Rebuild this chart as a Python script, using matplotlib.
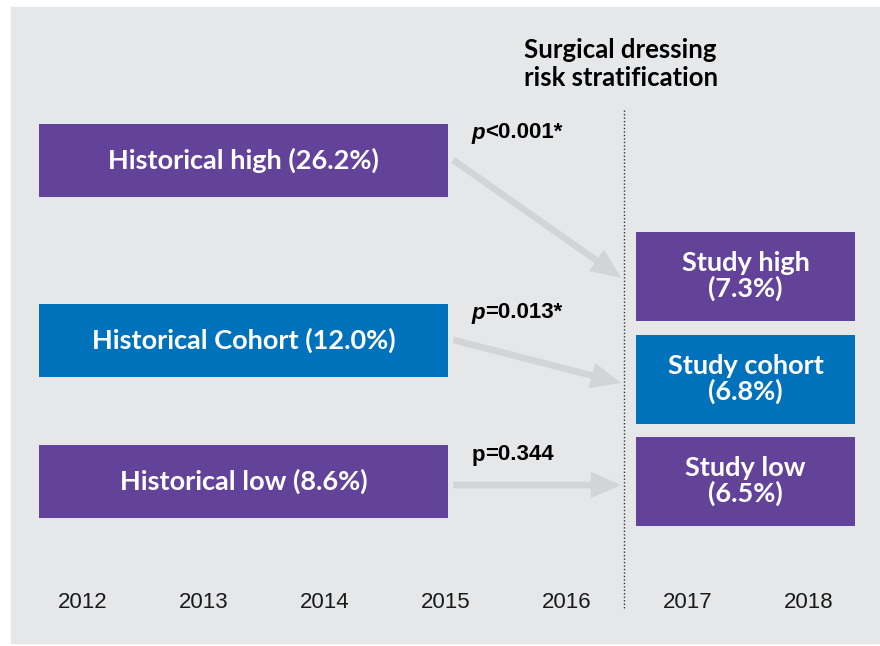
import matplotlib.pyplot as plt
from matplotlib.patches import Rectangle, FancyArrowPatch

# data
years = [2012, 2013, 2014, 2015, 2016, 2017, 2018]
hist_labels = ["Historical high", "Historical Cohort", "Historical low"]
hist_rates = [26.2, 12.0, 8.6]
study_labels = ["Study high", "Study cohort", "Study low"]
study_rates = [7.3, 6.8, 6.5]
p_prefix = ["p", "p", "p"]
p_rest = ["<0.001*", "=0.013*", "=0.344"]
p_italic = [True, True, False]

purple = "#634299"
blue = "#0071bb"
colors = [purple, blue, purple]
bg = "#e6e7e9"
arrow_col = "#d3d4d6"

# layout (pixel rows, top = 0)
hist_y = [160, 340, 481]
hist_h = 73
study_y = [276, 379, 481]
study_h = 89
hist_span = (2011.64, 2015.02)
study_span = (2016.57, 2018.38)
divider_x = 2016.47

fig = plt.figure(figsize=(8.8, 6.46), dpi=100)
fig.patch.set_facecolor("white")
fig.patches.append(Rectangle((11 / 880, 3 / 646), 868 / 880, 636 / 646,
                             transform=fig.transFigure, color=bg, zorder=-10))

ax = fig.add_axes([0, 0, 1, 1])
ax.set_xlim(2012 - 83 / 121, 2012 + (880 - 83) / 121)
ax.set_ylim(646, 0)
ax.axis("off")
ax.patch.set_alpha(0)

bold_font = "Lato"

# historical bars
for y, lab, r, c in zip(hist_y, hist_labels, hist_rates, colors):
    ax.barh(y, hist_span[1] - hist_span[0], left=hist_span[0], height=hist_h,
            color=c, zorder=2)
    ax.text(sum(hist_span) / 2, y, f"{lab} ({r:.1f}%)", color="white",
            ha="center", va="center", fontsize=19.5, fontweight="bold",
            family=bold_font, zorder=3)

# study bars
for y, lab, r, c in zip(study_y, study_labels, study_rates, colors):
    ax.barh(y, study_span[1] - study_span[0], left=study_span[0], height=study_h,
            color=c, zorder=2)
    ax.text(sum(study_span) / 2, y, f"{lab}\n({r:.1f}%)", color="white",
            ha="center", va="center", fontsize=19.5, fontweight="bold",
            family=bold_font, linespacing=1.02, zorder=3)

# arrows between bars
arrow_x0 = 2015.06
arrow_x1 = 2016.45
arrow_y0 = [160, 340, 485]
arrow_y1 = [278, 383, 485]
for y0, y1 in zip(arrow_y0, arrow_y1):
    ar = FancyArrowPatch((arrow_x0, y0), (arrow_x1, y1),
                         arrowstyle="simple,head_length=1.0,head_width=0.85,tail_width=0.22",
                         mutation_scale=22, color=arrow_col, lw=0, zorder=1,
                         shrinkA=0, shrinkB=0)
    ax.add_patch(ar)

# p-values: "p" (italic where the original has it) followed by the rest
fig.canvas.draw()
renderer = fig.canvas.get_renderer()
p_y = [133, 313, 455]
p_x = 2015.21
p_font = "Liberation Sans"
for y, pre, rest, it in zip(p_y, p_prefix, p_rest, p_italic):
    t = ax.text(p_x, y, pre, ha="left", va="center", fontsize=16,
                fontweight="bold", style="italic" if it else "normal",
                family=p_font, color="black")
    w = t.get_window_extent(renderer).width * 72 / fig.dpi
    ax.annotate(rest, xy=(p_x, y), xytext=(w, 0), textcoords="offset points",
                ha="left", va="center", fontsize=16, fontweight="bold",
                family=p_font, color="black")

# divider
ax.plot([divider_x, divider_x], [110, 610], color="#333333", lw=1,
        linestyle=(0, (1, 1.5)), zorder=1)

# title
ax.text(2016.45, 64, "Surgical dressing\nrisk stratification", ha="center",
        va="center", multialignment="left", fontsize=18.5, fontweight="bold",
        family=bold_font, linespacing=1.15)

# year axis labels
for yr in years:
    ax.text(yr, 602, str(yr), ha="center", va="center", fontsize=16,
            family=["Liberation Sans Narrow", "Liberation Sans"], color="#1a1a1a")

fig.savefig("out.png", dpi=100, facecolor=fig.get_facecolor())
